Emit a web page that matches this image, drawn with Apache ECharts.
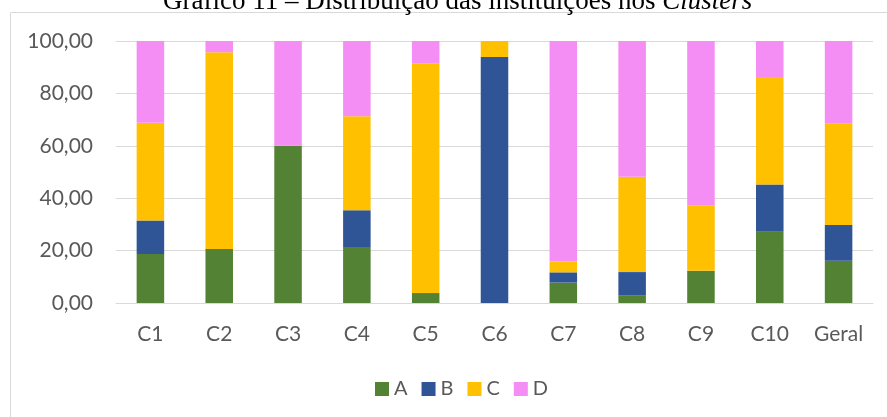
<!DOCTYPE html>
<html>
<head>
<meta charset="utf-8">
<script src="https://cdn.jsdelivr.net/npm/echarts@6/dist/echarts.min.js"></script>
<style>
  html, body { margin: 0; padding: 0; background: #fff; }
  #chart { width: 887px; height: 417px; }
</style>
</head>
<body>
<div id="chart"></div>
<script>
// Share of institutions (%) by type in each cluster
const categories = ['C1', 'C2', 'C3', 'C4', 'C5', 'C6', 'C7', 'C8', 'C9', 'C10', 'Geral'];
const seriesNames = ['A', 'B', 'C', 'D'];
const valuesA = [18.7, 20.6, 60.0, 21.4, 3.8, 0, 7.8, 2.8, 12.3, 27.2, 16.1];
const valuesB = [12.8, 0, 0, 14.0, 0, 93.9, 3.9, 9.0, 0, 18.0, 13.7];
const valuesC = [37.3, 75.1, 0, 35.9, 87.7, 6.1, 4.2, 36.4, 25.0, 41.1, 38.6];
const valuesD = [31.2, 4.3, 40.0, 28.7, 8.5, 0, 84.1, 51.8, 62.7, 13.7, 31.6];
const yTicks = [0, 20, 40, 60, 80, 100];

const colors = ['#548235', '#2F5597', '#FFC000', '#F48EF4'];
const allValues = [valuesA, valuesB, valuesC, valuesD];

const chart = echarts.init(document.getElementById('chart'), null, { renderer: 'canvas' });

const labelFont = 'Lato, "Open Sans", sans-serif';

chart.setOption({
  animation: false,
  color: colors,
  title: {
    text: 'Gráfico 11 – Distribuição das instituições nos {i|Clusters}',
    left: 158,
    top: -17,
    textStyle: {
      fontFamily: '"Liberation Serif", serif',
      fontSize: 27,
      fontWeight: 'normal',
      color: '#000',
      rich: {
        i: {
          fontFamily: '"Liberation Serif", serif',
          fontSize: 27,
          fontStyle: 'italic',
          color: '#000'
        }
      }
    }
  },
  graphic: [{
    type: 'rect',
    shape: { x: 10.5, y: 12.5, width: 900, height: 420 },
    style: { fill: 'none', stroke: '#d9d9d9', lineWidth: 1 },
    silent: true,
    z: -1
  }],
  legend: {
    data: seriesNames,
    left: 370,
    top: 374,
    itemWidth: 14,
    itemHeight: 14,
    itemGap: 14,
    icon: 'rect',
    textStyle: { fontFamily: labelFont, fontSize: 20, color: '#595959' }
  },
  grid: { left: 116, right: 14, top: 41, bottom: 114 },
  xAxis: {
    type: 'category',
    data: categories,
    axisLine: { lineStyle: { color: '#d9d9d9', width: 1 } },
    axisTick: { show: false },
    axisLabel: { fontFamily: labelFont, fontSize: 21, color: '#595959', margin: 21 }
  },
  yAxis: {
    type: 'value',
    min: yTicks[0],
    max: yTicks[yTicks.length - 1],
    interval: yTicks[1] - yTicks[0],
    axisLine: { show: false },
    axisTick: { show: false },
    splitLine: { lineStyle: { color: '#d9d9d9', width: 1 } },
    axisLabel: {
      fontFamily: labelFont,
      fontSize: 21,
      color: '#595959',
      margin: 23,
      formatter: v => v.toFixed(2).replace('.', ',')
    }
  },
  series: seriesNames.map((name, i) => ({
    name: name,
    type: 'bar',
    stack: 'total',
    barWidth: '40%',
    data: allValues[i],
    itemStyle: { color: colors[i] }
  }))
});
</script>
</body>
</html>
